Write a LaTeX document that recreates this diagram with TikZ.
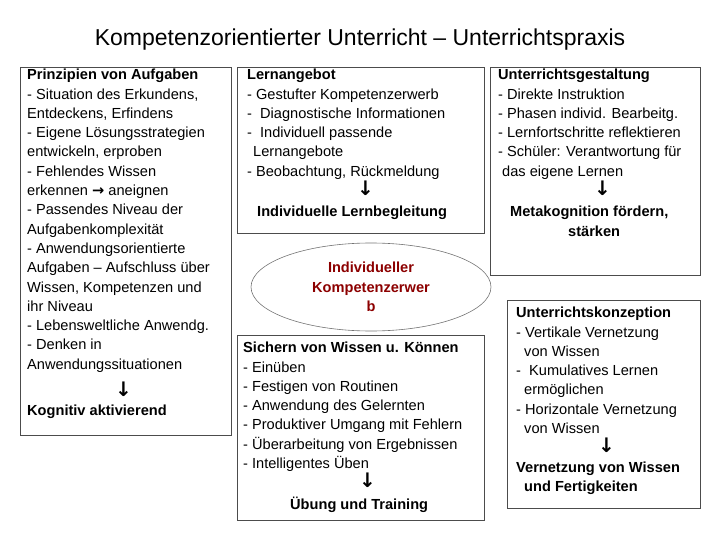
\documentclass[tikz,border=0pt]{standalone}
\usepackage{fontspec}
\setmainfont{Liberation Sans}
\newfontfamily\dv{DejaVu Sans}
\usetikzlibrary{shapes.geometric}
\newcommand{\dar}{{\dv\bfseries\fontsize{20}{19.3}\selectfont ↓}}
\newcommand{\rar}{{\dv\bfseries →}}
\begin{document}
\begin{tikzpicture}[x=1pt,y=-1pt,
  box/.style={draw=black!70,line width=0.6pt},
  txt/.style={anchor=north west,align=left,inner sep=0pt,font=\fontsize{14.6}{19.3}\selectfont}]
\useasboundingbox (0,0) rectangle (720,540);
\node (title) at (360,40) {\fontsize{23}{26}\selectfont Kompetenzorientierter Unterricht – Unterrichtspraxis};
\draw[box] (20,67) rectangle (231,435);
\node[txt] (l) at (27,69) {\textbf{Prinzipien von Aufgaben}\\
- Situation des Erkundens,\\ Entdeckens, Erfindens\\ - Eigene Lösungsstrategien\\ entwickeln, erproben\\
- Fehlendes Wissen\\ erkennen \rar{} aneignen\\ - Passendes Niveau der\\ Aufgabenkomplexität\\
- Anwendungsorientierte\\ Aufgaben – Aufschluss über\\ Wissen, Kompetenzen und\\ ihr Niveau\\
- Lebensweltliche Anwendg.\\ - Denken in\\ Anwendungssituationen\\[8pt]
\hspace*{88pt}\dar\\ \textbf{Kognitiv aktivierend}};
\draw[box] (237,67) rectangle (484,233);
\node[txt] (m1) at (247,69) {\textbf{Lernangebot}\\ - Gestufter Kompetenzerwerb\\ - \ Diagnostische Informationen\\
- \ Individuell passende\\ \hspace*{6pt}Lernangebote\\ - Beobachtung, Rückmeldung\\
\hspace*{110pt}\dar\\[2pt] \hspace*{10pt}\textbf{Individuelle Lernbegleitung}};
\node[ellipse,draw=black!55,line width=0.6pt,minimum width=240pt,minimum height=88pt,align=center,
  text=red!55!black,font=\fontsize{14.6}{19.3}\selectfont\bfseries] (e) at (371,287)
  {Individueller\\Kompetenzerwer\\b};
\draw[box] (237,335) rectangle (484,520);
\node[txt] (m2) at (243,342) {\textbf{Sichern von Wissen u. Können}\\ - Einüben\\ - Festigen von Routinen\\
- Anwendung des Gelernten\\ - Produktiver Umgang mit Fehlern\\ - Überarbeitung von Ergebnissen\\
- Intelligentes Üben\\ \hspace*{116pt}\dar\\[2pt] \hspace*{47pt}\textbf{Übung und Training}};
\draw[box] (490,67) rectangle (700,275);
\node[txt] (r1) at (498,69) {\textbf{Unterrichtsgestaltung}\\ - Direkte Instruktion\\ - Phasen individ. Bearbeitg.\\
- Lernfortschritte reflektieren\\ - Schüler: Verantwortung für\\ \hspace*{4pt}das eigene Lernen\\
\hspace*{96pt}\dar\\[2pt] \hspace*{12pt}\textbf{Metakognition fördern,}\\ \hspace*{70pt}\textbf{stärken}};
\draw[box] (507,300) rectangle (700,508);
\node[txt] (r2) at (516,307) {\textbf{Unterrichtskonzeption}\\ - Vertikale Vernetzung\\ \hspace*{8pt}von Wissen\\
- \ Kumulatives Lernen\\ \hspace*{8pt}ermöglichen\\ - Horizontale Vernetzung\\ \hspace*{8pt}von Wissen\\
\hspace*{82pt}\dar\\ \textbf{Vernetzung von Wissen}\\ \hspace*{8pt}\textbf{und Fertigkeiten}};
\end{tikzpicture}
\end{document}
